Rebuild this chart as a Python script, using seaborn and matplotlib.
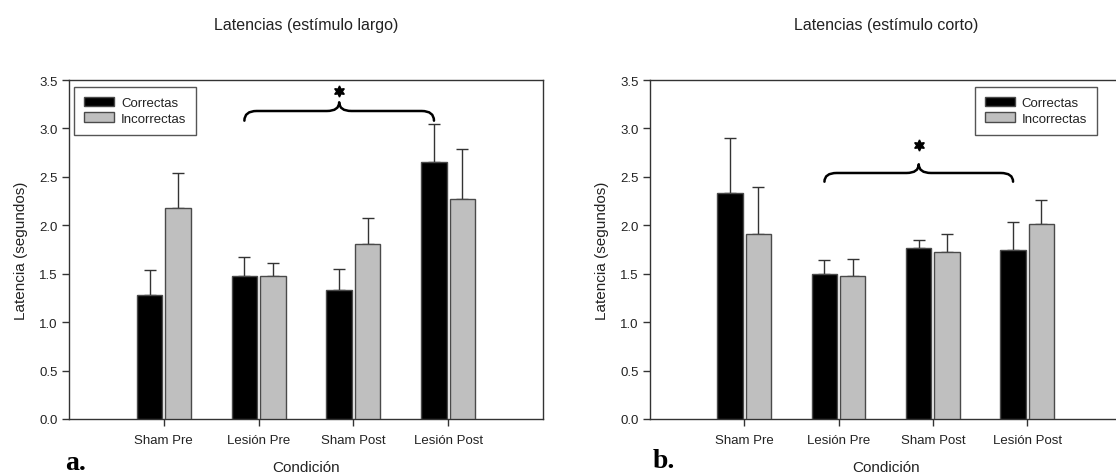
import numpy as np
import pandas as pd
import matplotlib
matplotlib.use("Agg")
import matplotlib.pyplot as plt
from matplotlib.path import Path
from matplotlib.patches import PathPatch, Patch
import seaborn as sns

# ---------------- data ----------------
conditions = ["Sham Pre", "Lesión Pre", "Sham Post", "Lesión Post"]
groups = ["Correctas", "Incorrectas"]

largo_correctas = [1.28, 1.48, 1.33, 2.65]
largo_correctas_err = [0.26, 0.19, 0.22, 0.40]
largo_incorrectas = [2.18, 1.48, 1.81, 2.27]
largo_incorrectas_err = [0.36, 0.13, 0.27, 0.52]

corto_correctas = [2.33, 1.50, 1.77, 1.75]
corto_correctas_err = [0.57, 0.14, 0.08, 0.28]
corto_incorrectas = [1.91, 1.48, 1.72, 2.01]
corto_incorrectas_err = [0.49, 0.17, 0.19, 0.25]

titles = ["Latencias (estímulo largo)", "Latencias (estímulo corto)"]
panel_letters = ["a.", "b."]
y_ticks = [0.0, 0.5, 1.0, 1.5, 2.0, 2.5, 3.0, 3.5]

# significance braces: (from condition, to condition, end y, flat y, peak y, star y)
brace_largo = ("Lesión Pre", "Lesión Post", 3.08, 3.18, 3.27, 3.39)
brace_corto = ("Lesión Pre", "Lesión Post", 2.45, 2.54, 2.63, 2.83)

# ---------------- style ----------------
sns.set_theme(style="white")
plt.rcParams["font.family"] = ["Liberation Sans", "DejaVu Sans"]
plt.rcParams["axes.edgecolor"] = "#333333"
plt.rcParams["axes.linewidth"] = 1.0

bar_colors = {"Correctas": "#000000", "Incorrectas": "#bfbfbf"}
edge_color = "#4a4a4a"
text_color = "#222222"

W, H = 1116, 477
fig = plt.figure(figsize=(W / 100, H / 100), dpi=100)

ax_pos = [
    [69 / W, (H - 420) / H, 474 / W, 339 / H],
    [650 / W, (H - 420) / H, 471.5 / W, 339 / H],
]
legend_anchor = [("upper left", (0.011, 0.98)), ("upper right", (0.948, 0.98))]
letter_pos = [(65 / W, 1 - 470 / H), (653 / W, 1 - 468 / H)]

datasets = [
    (largo_correctas, largo_correctas_err, largo_incorrectas, largo_incorrectas_err, brace_largo),
    (corto_correctas, corto_correctas_err, corto_incorrectas, corto_incorrectas_err, brace_corto),
]


def draw_brace(ax, x0, x1, y_end, y_flat, y_peak, r):
    xm = (x0 + x1) / 2
    verts = [
        (x0, y_end), (x0, y_flat), (x0 + r, y_flat),
        (xm - r, y_flat),
        (xm, y_flat), (xm, y_peak),
        (xm, y_flat), (xm + r, y_flat),
        (x1 - r, y_flat),
        (x1, y_flat), (x1, y_end),
    ]
    codes = [
        Path.MOVETO, Path.CURVE3, Path.CURVE3,
        Path.LINETO,
        Path.CURVE3, Path.CURVE3,
        Path.CURVE3, Path.CURVE3,
        Path.LINETO,
        Path.CURVE3, Path.CURVE3,
    ]
    ax.add_patch(PathPatch(Path(verts, codes), facecolor="none",
                           edgecolor="black", lw=1.8, zorder=5,
                           capstyle="round", joinstyle="round"))
    return xm


for i, (c, ce, inc, ince, brace) in enumerate(datasets):
    ax = fig.add_axes(ax_pos[i])
    df = pd.DataFrame({
        "Condición": conditions * 2,
        "Grupo": [groups[0]] * 4 + [groups[1]] * 4,
        "Latencia": c + inc,
        "err": ce + ince,
    })
    sns.barplot(data=df, x="Condición", y="Latencia", hue="Grupo",
                order=conditions, hue_order=groups, palette=bar_colors,
                width=0.6, gap=0.1, errorbar=None, edgecolor=edge_color,
                linewidth=1.0, saturation=1.0, legend=False, ax=ax, zorder=3)

    # error bars (upper only), from bar geometry
    for cont, g in zip(ax.containers, groups):
        sub = df[df["Grupo"] == g].set_index("Condición").loc[conditions]
        xs = [b.get_x() + b.get_width() / 2 for b in cont]
        hs = [b.get_height() for b in cont]
        ax.errorbar(xs, hs, yerr=[np.zeros(len(hs)), sub["err"].values],
                    fmt="none", ecolor="#333333", elinewidth=1.0,
                    capsize=4.2, capthick=1.0, zorder=2)

    ax.set_xlim(-1, 4)
    ax.set_ylim(0, 3.5)
    ax.set_yticks(y_ticks)
    ax.set_yticklabels([f"{t:.1f}" for t in y_ticks])
    ax.tick_params(axis="both", which="major", direction="out", length=5,
                   width=1.0, color="#333333", labelsize=9.5,
                   labelcolor=text_color, pad=3, left=True, bottom=True)
    ax.tick_params(axis="x", pad=6)
    for s in ax.spines.values():
        s.set_visible(True)
        s.set_color("#333333")
        s.set_linewidth(1.0)

    ax.set_xlabel("Condición", fontsize=11, color=text_color, labelpad=10)
    ax.set_ylabel("Latencia (segundos)", fontsize=11, color=text_color, labelpad=8)
    ax.set_title(titles[i], fontsize=11.5, color=text_color, pad=37)

    # legend
    handles = [Patch(facecolor=bar_colors[g], edgecolor=edge_color, linewidth=1.0)
               for g in groups]
    loc, anchor = legend_anchor[i]
    leg = ax.legend(handles, groups, loc=loc, bbox_to_anchor=anchor,
                    fontsize=9.5, frameon=True, fancybox=False,
                    edgecolor="#555555", framealpha=1.0, borderpad=0.75,
                    handlelength=2.3, handleheight=0.75, handletextpad=0.5,
                    labelspacing=0.25, borderaxespad=0.0)
    leg.get_frame().set_linewidth(1.0)
    for t in leg.get_texts():
        t.set_color(text_color)

    # significance brace + star
    cont0 = ax.containers[0]
    b0 = cont0[conditions.index(brace[0])]
    b1 = cont0[conditions.index(brace[1])]
    x0 = b0.get_x() + b0.get_width() / 2
    x1 = b1.get_x() + b1.get_width() / 2
    xm = draw_brace(ax, x0, x1, brace[2], brace[3], brace[4], r=0.13)
    ax.plot([xm], [brace[5]], marker=(6, 1, 0), markersize=8,
            color="black", linestyle="none", zorder=6, clip_on=False)

    fig.text(letter_pos[i][0], letter_pos[i][1], panel_letters[i],
             fontsize=20, fontweight="bold", family="Liberation Serif",
             ha="left", va="baseline", color="black")

fig.savefig("out.png", dpi=100)
